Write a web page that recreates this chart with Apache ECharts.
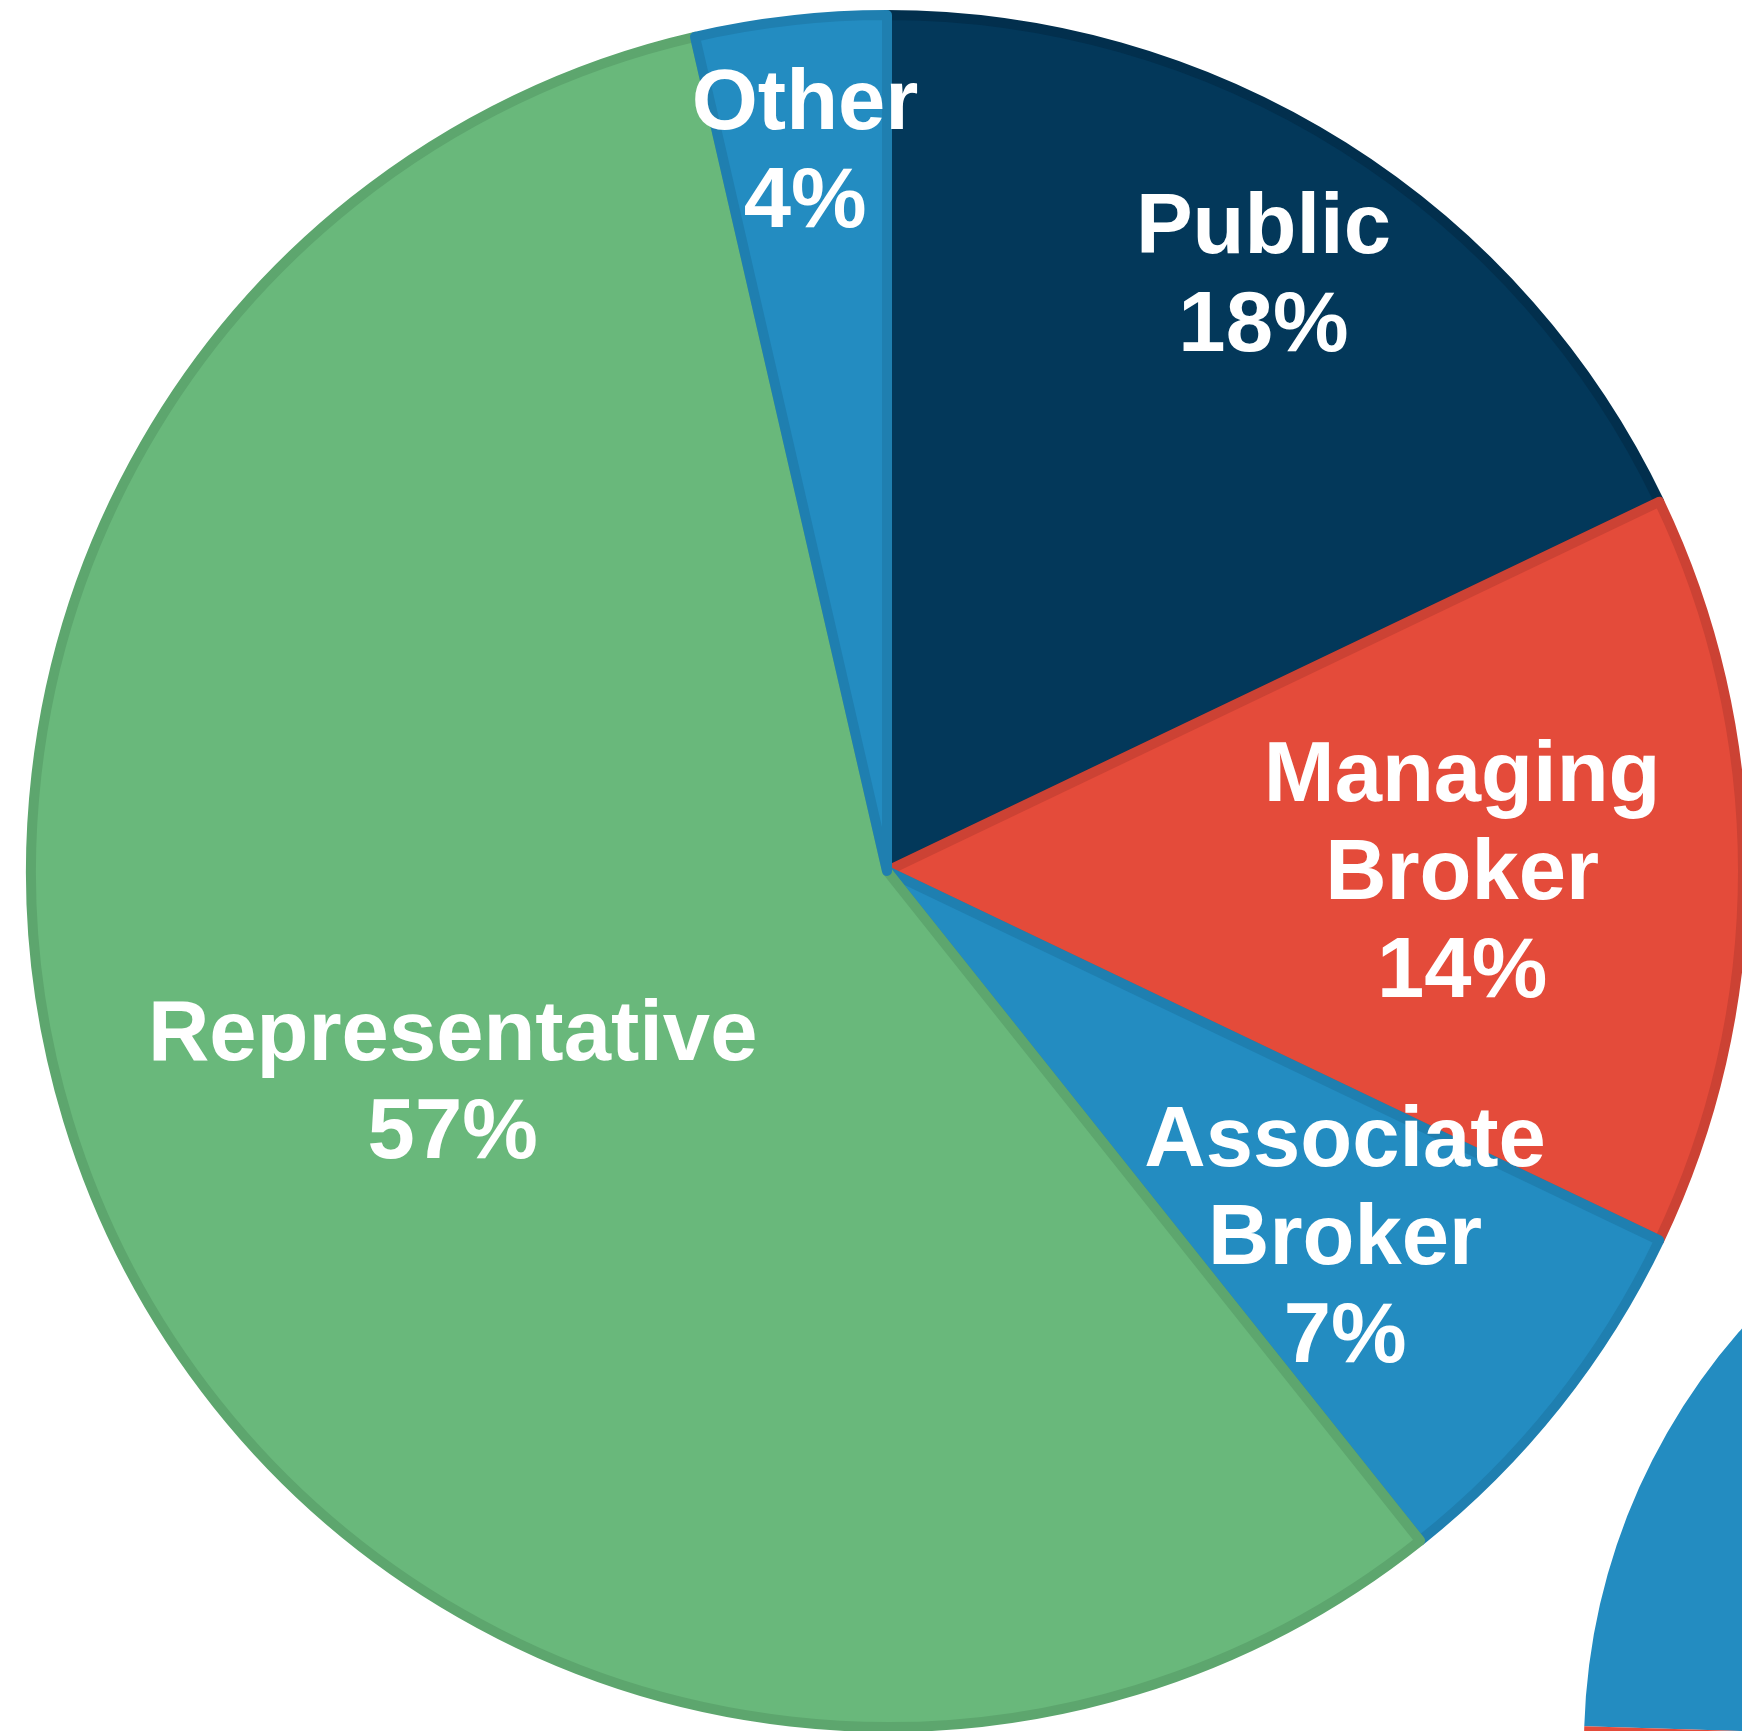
<!DOCTYPE html>
<html>
<head>
<meta charset="utf-8">
<script src="https://cdn.jsdelivr.net/npm/echarts@6/dist/echarts.min.js"></script>
<style>
  html, body { margin: 0; padding: 0; background: #fff; }
  #pie { width: 1742px; height: 1731px; }
</style>
</head>
<body>
<div id="pie"></div>
<script>
// share of each group (%)
const categories = ['Public', 'Managing Broker', 'Associate Broker', 'Representative', 'Other'];
const shares = [17.9, 14.2, 7.2, 57.1, 3.6];

// second pie, only its left edge shows in the corner
const cornerCategories = ['Blue', 'Red'];
const cornerShares = [45, 55];

const fills = ['#03385A', '#E44B3A', '#238CC1', '#69B87B', '#238CC1'];
const edges = ['#022F4D', '#CC4234', '#1F7FB0', '#5DA66E', '#1F7FB0'];
// how far out each label sits, as part of the radius
const labelFrac = [0.82, 0.668, 0.68, 0.56, 0.843];

const cx = 887, cy = 871, R = 861;

const chart = echarts.init(document.getElementById('pie'));

chart.setOption({
  animation: false,
  backgroundColor: '#fff',
  series: [
    {
      type: 'pie',
      center: [2212, 1745],
      radius: 628,
      startAngle: 178.3,
      silent: true,
      label: { show: false },
      labelLine: { show: false },
      data: cornerCategories.map((name, i) => ({
        name: name,
        value: cornerShares[i],
        itemStyle: { color: ['#238CC1', '#E44B3A'][i] }
      }))
    },
    {
      type: 'pie',
      center: [cx, cy],
      radius: R - 5,
      startAngle: 90,
      clockwise: true,
      silent: true,
      label: {
        show: true,
        position: 'inside',
        color: '#fff',
        fontFamily: 'Liberation Sans, Arial, sans-serif',
        fontWeight: 'bold',
        fontSize: 85,
        lineHeight: 98,
        formatter: p => p.name.replace(' ', '\n') + '\n' + Math.round(p.value) + '%'
      },
      labelLine: { show: false },
      labelLayout: params => {
        const r = params.labelRect;
        const mx = r.x + r.width / 2;
        const my = r.y + r.height / 2;
        const vx = mx - cx, vy = my - cy;
        const d = Math.sqrt(vx * vx + vy * vy) || 1;
        const k = labelFrac[params.dataIndex] * R / d;
        return { dx: vx * k - vx, dy: vy * k - vy + 5 };
      },
      data: categories.map((name, i) => ({
        name: name,
        value: shares[i],
        itemStyle: { color: fills[i], borderColor: edges[i], borderWidth: 10 }
      }))
    }
  ]
});
</script>
</body>
</html>
